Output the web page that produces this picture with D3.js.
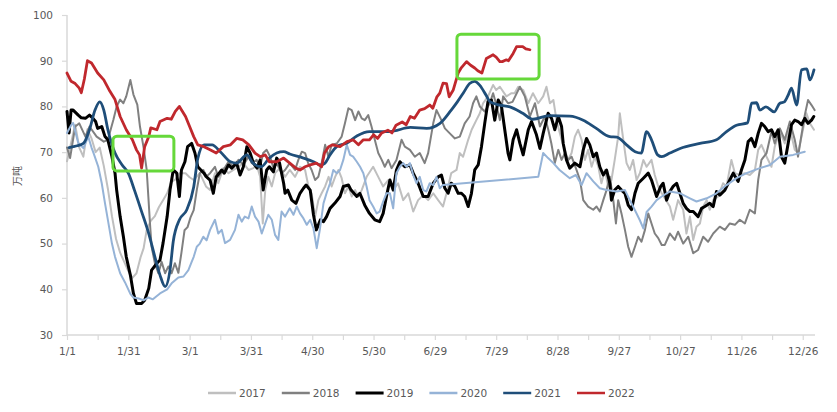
<!DOCTYPE html>
<html><head><meta charset="utf-8">
<script src="https://cdn.jsdelivr.net/npm/d3@7"></script>
<style>body{margin:0;background:#fff}svg{display:block}</style>
</head><body>
<svg id="chart" width="837" height="412"></svg>
<script>
// ---- data ----
const years = ["2017", "2018", "2019", "2020", "2021", "2022"];
const colors = ["#bfbfbf", "#808080", "#000000", "#95b3d7", "#1f4e79", "#c0282d"];
const widths = [2, 2, 3, 2, 2.8, 2.8];

// [day of year (0 = 1/1), value 万吨]
const s2017 = [[0,68],[2,72],[4,76],[6,71],[8,69],[10,75],[12,73],[14,70],[16,71],[18,67],[20,62],[22,56],[24,51],[26,48],[28,46],[30,44],[32,42.5],[34,43.5],[36,47],[37.5,49],[39,53],[41,55],[43,56],[45,58],[47,59.5],[49,61],[51,63.5],[53,64],[55,65.4],[58,65.4],[60,64.5],[62,63.9],[65,65.4],[68,62.5],[70,61.7],[72.4,65.4],[74,63.2],[76.5,66.5],[79,65.4],[81.4,66.1],[84,66.8],[86.3,67.6],[88.8,66.1],[91.2,66.5],[92.8,67.2],[94.5,64.6],[95.8,54.4],[97,61.7],[98.5,64.6],[100.2,62.5],[101.8,65.4],[104.2,66.5],[106.7,64.6],[109,66.1],[111.6,64.6],[114,66.8],[116.5,66.1],[118,62.8],[119.7,61],[121.4,55.9],[123,59.5],[124.6,61],[126.3,62.5],[128,64.6],[129.5,62.5],[131.2,64.6],[132.8,66.1],[134.4,64.3],[136,61],[137.7,62.5],[139.3,60.3],[141,61.7],[142.6,60.3],[144.2,61.7],[146.6,64.6],[149.8,66.8],[152.3,64.6],[154.7,62.5],[157.2,63.9],[159.6,61.7],[162,63.2],[164.5,59.5],[167,61],[169.4,57],[171.8,59.5],[174.3,60.6],[176.7,59.5],[179.2,61],[181.6,59.5],[184,58.1],[185.7,61],[188,65.4],[190.6,66.1],[192.2,69.8],[193.8,69],[196.3,72.7],[198,74.9],[200.3,77],[202,78.5],[203.6,80.7],[206,82.2],[208.5,84.7],[210,83.6],[211.8,84.3],[215,82.2],[217.5,82.9],[219,82.9],[220.8,84.3],[223.2,83.6],[225.7,80.7],[228,82.9],[230.6,80.7],[233,82.2],[234.6,84.3],[236.3,80.7],[238,81.4],[239.5,77],[242,72.7],[243.6,70.5],[245.2,68.3],[246.9,69.8],[248.5,73.4],[250.1,74.9],[251.8,72.7],[253.4,68.3],[255,70.5],[256.7,66.8],[258.3,69],[260,66.8],[261.5,63.2],[263.2,66.1],[264.8,62.5],[266.4,63.9],[268,68.3],[269.7,73.4],[270.5,78.5],[272.2,72.7],[273.8,67.6],[275.4,66.1],[277,68.3],[278.7,63.9],[280.3,65.4],[282,68.3],[283.6,66.8],[286,68.3],[287.6,65],[289.3,62.5],[291,61],[292.5,59.9],[295,58.1],[296.6,55.2],[299,59.5],[301.5,57.4],[303.1,52.2],[304.8,55.9],[306.4,50.8],[308,53.7],[309.7,54.4],[311.3,58.1],[313,59.5],[314.5,57.4],[316.2,59.5],[318.6,60.3],[321,63.2],[322.7,62.5],[325.1,68.3],[326.8,65.4],[329.2,65],[331.7,65.4],[334.1,65],[336.6,66.1],[338.2,70.5],[339.8,71.6],[342.3,69],[344.7,66.8],[346.3,71.2],[348.8,74.5],[351.2,71.9],[353.7,75.2],[356.1,70.5],[357.7,69.8],[359.4,73.4],[361.8,78.5],[363.5,76.3],[365.5,74.9]];

const s2018 = [[0,71],[1.5,68.7],[4,75.6],[6,76.3],[9,73.4],[11,75.6],[14.5,73.4],[18,72.3],[20,72.7],[22.7,77.1],[24.3,80],[26,81.5],[27.6,80.7],[29,82.2],[31,85.8],[32.5,82.6],[34.4,80.4],[35.7,75.6],[37.4,71.2],[39,66.1],[39.8,60.3],[40.6,54.4],[41.4,49.3],[43,45.7],[44.7,43.5],[46.3,46],[48,43.5],[49.6,45],[51.2,43.5],[52.8,45.7],[54.5,43.6],[56,48],[57.5,52.9],[59,53.6],[60.5,55.8],[62,57.3],[63.5,61.7],[65,65.4],[66.7,66.1],[68.3,64.7],[70,65.4],[72.4,66.8],[74,64.6],[76.5,66.1],[79,67.9],[81.4,66.8],[83.9,68.3],[86.3,67.2],[88.8,69],[90.4,67.6],[92.8,68.3],[94.5,66.8],[96,69.8],[97.7,70.5],[99.4,69],[101,66.5],[102.6,67.6],[105,65.4],[106.7,66.1],[109,67.6],[111.6,66.1],[113.2,68.3],[114.9,70.1],[116.5,69.8],[118,67.6],[119.7,66.1],[121.4,63.9],[123,64.6],[124.6,67.6],[126.3,71.6],[127.9,69],[129.5,71.6],[132,71.9],[134.4,73.4],[136,76.3],[137.7,79.6],[139.3,79.2],[141,77],[142.6,78.9],[144.2,77.4],[145.7,77],[147.4,78.1],[149,75.6],[150.6,72.7],[152.3,69.8],[154,68.3],[155.5,66.8],[157.2,68.3],[158.8,66.5],[161.2,68.3],[163.7,72.7],[165.3,71.2],[167.8,70.5],[170.2,69],[172.6,69.8],[175,67.6],[176.7,69.8],[179.2,76.3],[180.8,79.2],[183.2,77],[184.9,75.2],[187.3,74.1],[189.8,73],[192.2,73.4],[194.6,76.3],[197,77.8],[198.7,80.7],[200.3,82.2],[202,80],[204.4,78.9],[206.9,80.7],[208.5,82.9],[210.1,80.3],[211.8,77],[213.4,82.2],[215.8,80.7],[218,81],[221.6,84.3],[224,82.2],[226.5,77.8],[229,80.7],[231.4,75.6],[233.8,77.8],[235.5,74.9],[237,71.9],[238.7,67.6],[240.4,70.5],[242,68.3],[243.6,69.8],[245.2,68.3],[246.9,69],[249.3,66.1],[251,63.9],[252.6,59.5],[255,58.1],[257.5,57.4],[259.1,58.1],[260.7,57],[262.4,59.5],[264,61.7],[265.6,64.6],[267.3,59.5],[268.6,54.4],[269.7,59.5],[271.3,56.6],[273,53],[274.6,49.3],[276.2,47.1],[277.9,49.3],[279.5,51.5],[281.1,50.4],[282.8,53],[284.4,56.6],[286,54.4],[287.6,52.2],[289.3,51.2],[291,49.7],[292.5,49.7],[295,52.2],[297.4,50.8],[299,52.6],[301.5,50],[304,51.5],[306.4,47.9],[308.8,48.6],[311.3,51.5],[313.7,50.4],[316.2,52.2],[319.4,53.7],[321.9,53],[324.3,54.4],[326.8,54.1],[329.2,55.2],[331.7,54.4],[334.1,57.4],[336.6,56.6],[338.2,63.9],[339.8,68.3],[342.3,69.8],[344.7,74.5],[346.3,71.9],[348.8,75.2],[351.2,72.7],[353.7,76.7],[356.1,72.7],[357.7,69],[359.4,73.8],[361,78.1],[362.6,81.4],[364.3,80.3],[365.8,79.2]];

const s2019 = [[0,78.9],[1,74.2],[2,79.2],[3,79.2],[5.5,78.1],[7,77.5],[9,77.4],[11,78.1],[12.5,77.5],[14,76.7],[15,75.2],[17,75.6],[18.6,73.4],[20,72.7],[22,69],[23.5,65.4],[24.3,61.7],[26,55.9],[27.6,51.5],[29,47.1],[31,43.1],[32.5,39.1],[34,36.9],[36.5,36.9],[38,37.6],[40,40.2],[41.4,44.2],[44,45.7],[45.5,46.4],[47,50.1],[49,55.9],[50.4,61.7],[52,66.1],[53.7,65.4],[55,60.3],[56,66.1],[57.7,67.9],[59,71.2],[61,71.9],[62.6,69.8],[64,66.8],[67,65.4],[68,64.7],[70,63.9],[71.6,61],[73,64.6],[75.7,66.1],[77,65.4],[79,67.2],[80.6,66.5],[83,67.6],[84.7,65],[86.3,66.8],[88,71.2],[89.6,69.8],[91.2,67.6],[93,66.5],[94.5,68.3],[96,61.7],[97.7,66.1],[99,66.8],[101,65.7],[102.6,68.7],[104,67.6],[106,63.2],[106.7,61],[108,61.7],[110,59.5],[112,58.8],[114,61],[115.7,62.1],[117,62.8],[119,61.7],[120.6,56.3],[122,53],[124,55.2],[125.5,54.8],[127,55.9],[128.7,57.7],[131,58.8],[133.6,60.3],[135.2,62.5],[137.7,62.8],[139,61.7],[141.8,60.3],[143.3,61],[145.7,58.4],[148,56.6],[150.6,55.2],[153,54.8],[154.7,56.6],[156.3,60.3],[158,63.9],[159.6,61.7],[161.2,66.1],[162.9,67.9],[165.3,66.8],[167.8,67.2],[169.4,65.4],[171.8,63.2],[174.3,60.3],[176.7,60.3],[179.2,63.2],[181.6,64.6],[183.2,65],[184.9,62.1],[186.5,61],[188,63.2],[189.8,62.5],[191.4,61],[193,61],[194.6,60.3],[196.3,58.1],[197.9,61],[199.5,66.1],[201.2,67.2],[202.8,71.2],[204.4,76.3],[206,81.1],[207.7,81.4],[209.3,77],[211,81.4],[212.6,80],[214.2,74.9],[215.8,69.8],[216.7,68.3],[218.3,72.7],[220,74.9],[221.6,71.9],[223.2,69.4],[225.7,74.9],[227.3,76.7],[229.7,73.8],[231.4,70.8],[233,74.1],[235.4,78.5],[237.1,77.4],[238.7,74.9],[240.4,77.8],[242,75.6],[242.8,71.9],[244.4,68.3],[246,66.5],[248.5,67.6],[251,66.8],[252.6,70.5],[254.2,73],[255.8,71.6],[257.5,69],[259.1,69.8],[260.7,66.8],[262.4,65],[264,66.1],[265.6,63.2],[266.4,59.5],[268,61.7],[269.7,62.5],[271.3,61.7],[273,61],[274.6,58.4],[276.2,57.4],[277.9,61],[279.5,63.2],[282,64.3],[284.4,65.4],[286,63.9],[288.5,60.3],[290.5,62.5],[291.7,63.2],[293.4,59.5],[295,61.4],[296.6,62.5],[298.3,63.2],[299.9,61],[301.5,58.8],[303.1,57.7],[304.8,57],[306.4,57],[308.8,55.9],[310.5,57.7],[312.1,58.1],[314.5,58.8],[316.2,58.1],[317.8,61.4],[319.4,60.6],[321.9,61.7],[324.3,63.9],[326,65.4],[328.4,63.6],[330,66.1],[331.7,68.3],[333.3,72.3],[334.9,73],[336.6,71.2],[338.2,74.1],[339.8,76.3],[341.4,75.6],[343.1,74.5],[344.7,74.9],[346.3,73.4],[348,74.9],[349.6,69],[351.2,67.6],[352.9,72],[354.5,76],[356.1,77],[357.7,76.7],[359.4,76],[361,77.4],[362.6,76.3],[364.3,77],[365.4,77.8]];

const s2020 = [[0,74.2],[2,75.9],[3,76.4],[5.5,72],[8,70.9],[10.4,73.4],[12,71],[13,69.8],[15.3,66.8],[17,63.2],[18.6,58.8],[20,55.2],[22,50],[23.5,47.1],[26,43.5],[28.4,41.5],[31,39],[32.5,38.2],[35,38],[37.4,37.6],[39.8,38.2],[42,37.8],[45.5,39.1],[49,40],[51.2,41.3],[54.5,42.6],[57,42.8],[59.4,44.2],[61,46],[62,47.1],[63.5,49.3],[65,50],[66.7,51.5],[68.3,50.7],[70,53],[72.4,55.2],[74,52.2],[75.7,53],[77.3,50.1],[79.8,50.8],[82.2,53],[83.9,56.3],[85.5,54.8],[87,55.9],[88.8,55.5],[90.4,58.1],[92,55.9],[93.7,54.8],[95.3,52.2],[97,54.4],[98.5,56.3],[100.2,55.2],[101.8,51.9],[103.4,50.8],[105,57],[106.7,55.9],[109,57.7],[110.8,56.3],[112.4,58.1],[114,56.6],[115.7,55.5],[117.3,54.1],[119,55.2],[120.6,53.3],[122.2,49],[123.8,53.3],[125.5,58.8],[127,61],[128.7,63.2],[130.3,66.1],[132,65.4],[133.6,66.1],[135.2,68.3],[136.9,71.6],[138.5,69.4],[140,69],[141.8,67.9],[143.4,66.8],[145,65.4],[146.6,62.5],[148,59.5],[149.8,58.1],[151.5,56.6],[153,57],[154.7,59.2],[156.3,61],[158,61],[159.6,57.7],[161.2,65.4],[162.9,66.8],[164.5,67.6],[166.1,66.8],[167.8,67.6],[169.4,65],[171,63.2],[172.6,64.6],[174.3,61.7],[175.9,61.4],[177.5,63.2],[179.2,62.8],[180.8,64.6],[182.4,62.1],[184,62.8],[230.6,64.6],[233,69.8],[235.4,68.7],[238,67.6],[241,66.1],[246,64.3],[249,65],[251.8,62.8],[254.2,65.4],[257.5,63.6],[260.7,62.1],[264,61.7],[269,61.4],[273,61.7],[275.4,59.5],[277.9,57.3],[280.3,55.1],[282,53.3],[283.6,56.9],[286,58.1],[288.5,59.5],[291,60.3],[295,61.4],[300,61],[304.8,59.9],[308,59.2],[313,59.9],[317.8,61],[322.7,62.8],[327.6,64.3],[332.5,65.4],[339,66.5],[344,67.2],[348.8,69],[355.3,69.4],[361,70.1]];

const s2021 = [[1,71],[3,71.2],[5,71.4],[8,71.9],[11,74.9],[13.7,79.2],[16,81],[18,79.2],[20,74.9],[23.5,69.8],[27,67.2],[30,65.4],[33,61.7],[36.5,57],[40,52.2],[43,47.1],[45.5,43.1],[48,40.6],[50.4,44.2],[52,50.5],[55,55.2],[58.5,57.3],[62,62.4],[64,68.6],[67,71.6],[71,71.6],[75,70.1],[80,67.9],[83,67.6],[88,69.4],[91,67.6],[95,66.8],[99,68.7],[102.6,69.8],[106,70.1],[109,69.6],[115.7,68.7],[120.6,67.9],[124,67.2],[126,67.5],[128.7,69.4],[132,71.2],[137,72],[142,73.6],[148,74.5],[158,74.5],[168,75.4],[176,75.2],[182.5,76.3],[188,79.2],[191,81],[194,83],[197,85],[199.5,85.5],[202,84.6],[205,82.5],[207,81],[211.8,80.3],[216.7,79.9],[223,78.5],[228,77.2],[236,78],[246,77.9],[252.6,77],[259,75.2],[265.6,73.4],[269,73.3],[273.8,71.6],[278,70.1],[281,69.8],[283.6,74.5],[286,72.7],[289,69.4],[291,69],[295,69.8],[300,70.8],[309.7,71.9],[317.8,72.7],[322.7,74.5],[327.6,75.9],[333,76.4],[335,80.7],[337.4,80.8],[339,79.2],[342,79.9],[346,78.8],[348.8,80.7],[351,81],[352.9,82.5],[354.5,84],[357,80.3],[359.4,88],[362,88.2],[363.5,85.8],[365.5,88]];

const s2022 = [[0,87.3],[2,85.5],[4,85],[6,84],[7,83],[8.5,86],[10,90],[12,89.5],[15,87.3],[18,85.8],[21,83.3],[23.5,81.5],[26,77.8],[29,74.9],[32,72.7],[34,70.5],[35.5,69.4],[36.5,66.5],[38,71.2],[40,73.4],[41,75.3],[44,74.9],[45.5,76.7],[49,77.4],[51,77.2],[53,78.9],[55,80],[58,77.8],[60,75.6],[62,73.4],[64,71.6],[67,71.2],[70,70.5],[73,69.8],[76.5,71.2],[80,71.6],[83,73],[86,72.7],[89,71.6],[92,69.8],[94.5,69],[97,69.4],[99,67.9],[102.6,67.9],[106,68.7],[109,67.6],[112,66.5],[114,66.1],[116.5,66.8],[119,67.2],[122,67.6],[124.6,66.8],[126,69.8],[128,71.2],[130,71.6],[133.6,71.2],[137,72.3],[140,72.7],[142.6,71.6],[145,72.7],[148,72.7],[150,73.8],[152,73],[154,74.2],[157,74.8],[159,74.2],[161,75.9],[164,76.6],[166,76],[168,77.8],[170,77.4],[172.6,79.2],[175,79.5],[177.5,80.3],[179,79.6],[181,82.1],[182.4,82.9],[184,85.1],[185.7,85],[187,82.1],[189,83.6],[191.4,87.3],[193,88.5],[195.5,89.8],[197.5,89],[199.5,88.4],[201,87.8],[203,87.3],[205.2,90.5],[208.5,91.3],[210,90.8],[211.8,89.8],[213,89.8],[215,90.2],[216,90],[218.3,91.6],[220,93.1],[223,93.1],[224.5,92.6],[226.5,92.4]];

const seriesData = [s2017, s2018, s2019, s2020, s2021, s2022];

const yTicks = [30, 40, 50, 60, 70, 80, 90, 100];
const xTickDays = [0, 15, 30, 45, 60, 75, 90, 105, 120, 135, 150, 165, 180, 195, 210, 225, 240, 255, 270, 285, 300, 315, 330, 345, 360];
const xLabels = {0:"1/1",30:"1/31",60:"3/1",90:"3/31",120:"4/30",150:"5/30",180:"6/29",210:"7/29",240:"8/28",270:"9/27",300:"10/27",330:"11/26",360:"12/26"};
const yTitle = "万吨";

// highlight boxes: [startDay, endDay, lowValue, highValue]
const boxes = [[22.5, 52.3, 65.9, 73.5], [190.8, 231, 86, 95.8]];

// ---- chart ----
const svg = d3.select("#chart");
const font = "'DejaVu Sans', Verdana, sans-serif";
const x = d3.scaleLinear().domain([0, 366]).range([67, 815]);
const y = d3.scaleLinear().domain([30, 100]).range([335, 15]);

const yAxis = svg.append("g").attr("transform", "translate(67,0)")
  .call(d3.axisLeft(y).tickValues(yTicks).tickSize(5).tickSizeOuter(0).tickPadding(9));
const xAxis = svg.append("g").attr("transform", "translate(0,335)")
  .call(d3.axisBottom(x).tickValues(xTickDays).tickSize(5).tickSizeOuter(0).tickPadding(8)
    .tickFormat(d => xLabels[d] || ""));
[yAxis, xAxis].forEach(g => {
  g.select(".domain").attr("stroke", "#d9d9d9").attr("stroke-width", 1.5);
  g.selectAll(".tick line").attr("stroke", "#d9d9d9").attr("stroke-width", 1.2);
  g.selectAll("text").attr("fill", "#595959").style("font-family", font).style("font-size", "10.5px");
});
yAxis.select(".domain").attr("d", `M0,${y(100)}V${y(30)}`);
xAxis.select(".domain").attr("d", `M${x(0)},0H${x(366)}`);

svg.append("text").attr("transform", "translate(21,176) rotate(-90)")
  .attr("text-anchor", "middle").attr("fill", "#595959")
  .style("font-family", "'Noto Sans CJK SC', sans-serif").style("font-size", "10px")
  .text(yTitle);

const line = d3.line().x(d => x(d[0])).y(d => y(d[1]));
const smooth = d3.line().x(d => x(d[0])).y(d => y(d[1])).curve(d3.curveMonotoneX);

seriesData.forEach((s, i) => {
  svg.append("path").datum(s)
    .attr("d", i === 4 ? smooth : line)
    .attr("fill", "none").attr("stroke", colors[i]).attr("stroke-width", widths[i])
    .attr("stroke-linejoin", "round").attr("stroke-linecap", "round");
});

boxes.forEach(b => {
  svg.append("rect")
    .attr("x", x(b[0])).attr("y", y(b[3]))
    .attr("width", x(b[1]) - x(b[0])).attr("height", y(b[2]) - y(b[3]))
    .attr("rx", 4).attr("fill", "none").attr("stroke", "#66d83a").attr("stroke-width", 3);
});

// legend
const legend = svg.append("g").attr("transform", "translate(208,393)");
years.forEach((yr, i) => {
  const g = legend.append("g").attr("transform", `translate(${i * 73.8},0)`);
  g.append("line").attr("x1", 0).attr("x2", 28).attr("y1", 0).attr("y2", 0)
    .attr("stroke", colors[i]).attr("stroke-width", i === 2 ? 3 : 2.5);
  g.append("text").attr("x", 31).attr("y", 4).attr("fill", "#595959")
    .style("font-family", font).style("font-size", "10.5px").text(yr);
});
</script>
</body></html>
